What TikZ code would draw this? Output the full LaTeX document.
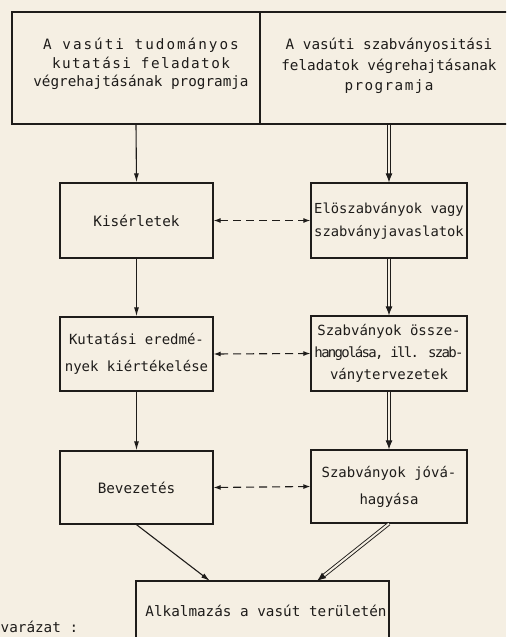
\documentclass[tikz,border=0pt]{standalone}
\usepackage{fontspec}
\setmainfont{DejaVu Sans Mono}
\newcommand{\lsp}[2]{{\addfontfeature{LetterSpace=#1}#2}}
\usetikzlibrary{arrows.meta}
\definecolor{paper}{RGB}{245,239,227}
\definecolor{ink}{RGB}{30,28,26}
\begin{document}
\begin{tikzpicture}[x=1pt,y=-1pt,
  box/.style={draw=ink,line width=1.3pt,inner sep=0pt,align=center,text=ink,font=\fontsize{14.3}{23}\selectfont},
  lbl/.style={inner sep=0pt,align=center,text=ink,font=\fontsize{14.3}{23}\selectfont},
  sarrow/.style={draw=ink,line width=1.1pt,-{Latex[length=9pt,width=5pt]}},
  darrow/.style={draw=ink,line width=0.9pt,double=paper,double distance=2pt,-{Latex[length=9pt,width=7pt]}},
  dasharrow/.style={draw=ink,line width=1.1pt,dash pattern=on 8pt off 5pt,{Latex[length=7pt,width=5pt]}-{Latex[length=7pt,width=5pt]}}]
\useasboundingbox (0,0) rectangle (506,637);
\clip (0,0) rectangle (506,637);
\fill[paper] (0,0) rectangle (506,637);

\node[box,minimum width=248pt,minimum height=112pt] (tl) at (136,68) {};
\node[lbl,font=\fontsize{14.3}{18.5}\selectfont] (tlt) at (141,64)
  {\lsp{14}{A vasúti tudományos}\\\lsp{10}{kutatási feladatok}\\végrehajtásának programja};
\node[box,minimum width=258pt,minimum height=112pt] (tr) at (389,68) {};
\node[lbl,font=\fontsize{14.3}{20.5}\selectfont] (trt) at (389,66)
  {A vasúti szabványositási\\feladatok végrehajtásanak\\\lsp{10}{programja}};

\node[box,minimum width=153pt,minimum height=75pt] (k) at (136.5,220.5) {Kisérletek};
\node[box,minimum width=156pt,minimum height=75pt,font=\fontsize{13.8}{23}\selectfont] (e) at (389,220.5)
  {Elöszabványok vagy\\szabványjavaslatok};

\node[box,minimum width=153pt,minimum height=74pt,font=\fontsize{14}{27}\selectfont] (ku) at (136.5,354)
  {Kutatási eredmé-\\nyek kiértékelése};
\node[box,minimum width=156pt,minimum height=75pt,font=\fontsize{14}{22}\selectfont] (sz) at (389,353.5)
  {Szabványok össze-\\\lsp{-12}{hangolása, ill. szab-}\\ványtervezetek};

\node[box,minimum width=153pt,minimum height=73pt] (b) at (136.5,487.5) {Bevezetés};
\node[box,minimum width=156pt,minimum height=73pt,font=\fontsize{14}{27}\selectfont] (j) at (389,486.5)
  {Szabványok jóvá-\\hagyása};

\node[box,minimum width=253pt,minimum height=80pt] (a) at (262.5,621) {};
\node[lbl] (at) at (266,611) {Alkalmazás a vasút területén};

\node[lbl,anchor=base west] (mag) at (0.5,632.5) {varázat :};

\coordinate (al) at (210,581);
\coordinate (ar) at (317,581);

\draw[sarrow] (tl.south) -- (k.north);
\draw[sarrow] (k.south) -- (ku.north);
\draw[sarrow] (ku.south) -- (b.north);
\draw[sarrow] (b.south) -- (al);

\draw[darrow] (tr.south) -- (e.north);
\draw[darrow] (e.south) -- (sz.north);
\draw[darrow] (sz.south) -- (j.north);
\draw[darrow] (j.south) -- (ar);

\draw[dasharrow] (k.east) -- (e.west);
\draw[dasharrow] (ku.east) -- (sz.west);
\draw[dasharrow] (b.east) -- (j.west);
\end{tikzpicture}
\end{document}
